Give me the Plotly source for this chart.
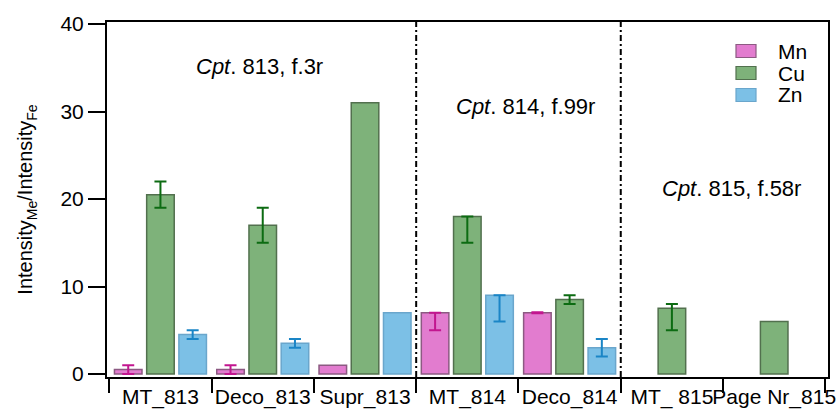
import plotly.graph_objects as go

# Sample positions (x categories)
categories = ["MT_813", "Deco_813", "Supr_813", "MT_814", "Deco_814", "MT_ 815", "Page Nr_815"]

# Intensity ratios Me/Fe per element
mn_values = [0.5, 0.5, 1.0, 7.0, 7.0, None, None]
cu_values = [20.5, 17.0, 31.0, 18.0, 8.5, 7.5, 6.0]
zn_values = [4.5, 3.5, 7.0, 9.0, 3.0, None, None]

# Error bars (upper / lower extent); None = no error bar
mn_err_plus = [0.5, 0.5, None, 0.0, 0.05, None, None]
mn_err_minus = [0.5, 0.5, None, 2.0, 0.05, None, None]
cu_err_plus = [1.5, 2.0, None, 0.0, 0.5, 0.5, None]
cu_err_minus = [1.5, 2.0, None, 3.0, 0.5, 2.5, None]
zn_err_plus = [0.5, 0.5, None, 0.0, 1.0, None, None]
zn_err_minus = [0.5, 0.5, None, 3.0, 1.0, None, None]

# Section labels: (text, x position in category units, y value)
sections = [
    ("<i>Cpt</i>. 813, f.3r", 0.97, 35.1),
    ("<i>Cpt</i>. 814, f.99r", 3.57, 30.6),
    ("<i>Cpt</i>. 815, f.58r", 5.58, 21.2),
]
section_breaks = [2.5, 4.5]

FONT = "Liberation Sans, Arial, sans-serif"

# Figure geometry (pixels)
W, H = 839, 410
ML, MR, MT, MB = 107, 11, 22, 33
PW, PH = W - ML - MR, H - MT - MB


def err_list(values):
    # plotly.js turns null into 0 (a flat cap); "NaN" suppresses the bar entirely
    return ["NaN" if v is None else v for v in values]


def px_x(px):
    return (px - ML) / PW


def px_y(py):
    return (H - MB - py) / PH


series = [
    ("Mn", mn_values, mn_err_plus, mn_err_minus, "#e27ccf", "#8c5a82", "#c2168f"),
    ("Cu", cu_values, cu_err_plus, cu_err_minus, "#7eb27a", "#52704e", "#0c6b12"),
    ("Zn", zn_values, zn_err_plus, zn_err_minus, "#7cc0e6", "#6aa6cc", "#1a85c6"),
]

fig = go.Figure()
for name, vals, ep, em, fill, edge, ecol in series:
    fig.add_trace(go.Bar(
        x=categories, y=vals, name=name, showlegend=False,
        marker=dict(color=fill, line=dict(color=edge, width=1.5)),
        error_y=dict(type="data", symmetric=False,
                     array=err_list(ep), arrayminus=err_list(em),
                     color=ecol, thickness=2, width=6),
    ))

# Key: colour swatch plus element name for each series
key_top, key_step = 51, 22
for i, (name, _, _, _, fill, edge, _) in enumerate(series):
    cy = key_top + i * key_step
    fig.add_shape(type="rect", xref="paper", yref="paper",
                  x0=px_x(736), x1=px_x(756), y0=px_y(cy + 6.5), y1=px_y(cy - 6.5),
                  fillcolor=fill, line=dict(color=edge, width=1.2))
    fig.add_annotation(xref="paper", yref="paper", x=px_x(776), y=px_y(cy),
                       xanchor="left", yanchor="middle", text=name, showarrow=False,
                       font=dict(family=FONT, size=21, color="black"))

for xb in section_breaks:
    fig.add_shape(type="line", xref="x", yref="paper", x0=xb, x1=xb, y0=0, y1=1,
                  line=dict(color="black", width=2, dash="6px,3px,2px,3px"))

for text, xv, yv in sections:
    fig.add_annotation(x=xv, y=yv, xref="x", yref="y", text=text, showarrow=False,
                       font=dict(family=FONT, size=22, color="black"))

fig.update_layout(
    width=W, height=H,
    margin=dict(l=ML, r=MR, t=MT, b=MB),
    paper_bgcolor="white", plot_bgcolor="white",
    barmode="group", bargap=0.055, bargroupgap=0.145,
    font=dict(family=FONT, size=21, color="black"),
    showlegend=False,
)

fig.update_xaxes(
    type="category", range=[-0.5225, 6.526],
    showline=True, linecolor="black", linewidth=2, mirror=True,
    ticks="outside", tickson="boundaries", ticklen=14, tickwidth=2, tickcolor="black",
    showgrid=False, zeroline=False, automargin=False,
    tickangle=0, tickfont=dict(size=21),
)
fig.update_yaxes(
    range=[-0.343, 40.229], tickvals=[0, 10, 20, 30, 40],
    showline=True, linecolor="black", linewidth=2, mirror=True,
    ticks="outside", ticklen=17, tickwidth=2, tickcolor="black",
    showgrid=False, zeroline=False, automargin=False,
    tickfont=dict(size=21),
    title=dict(text="Intensity<sub>Me</sub>/Intensity<sub>Fe</sub>",
               font=dict(size=20), standoff=22),
)

fig.write_html("out.html")
